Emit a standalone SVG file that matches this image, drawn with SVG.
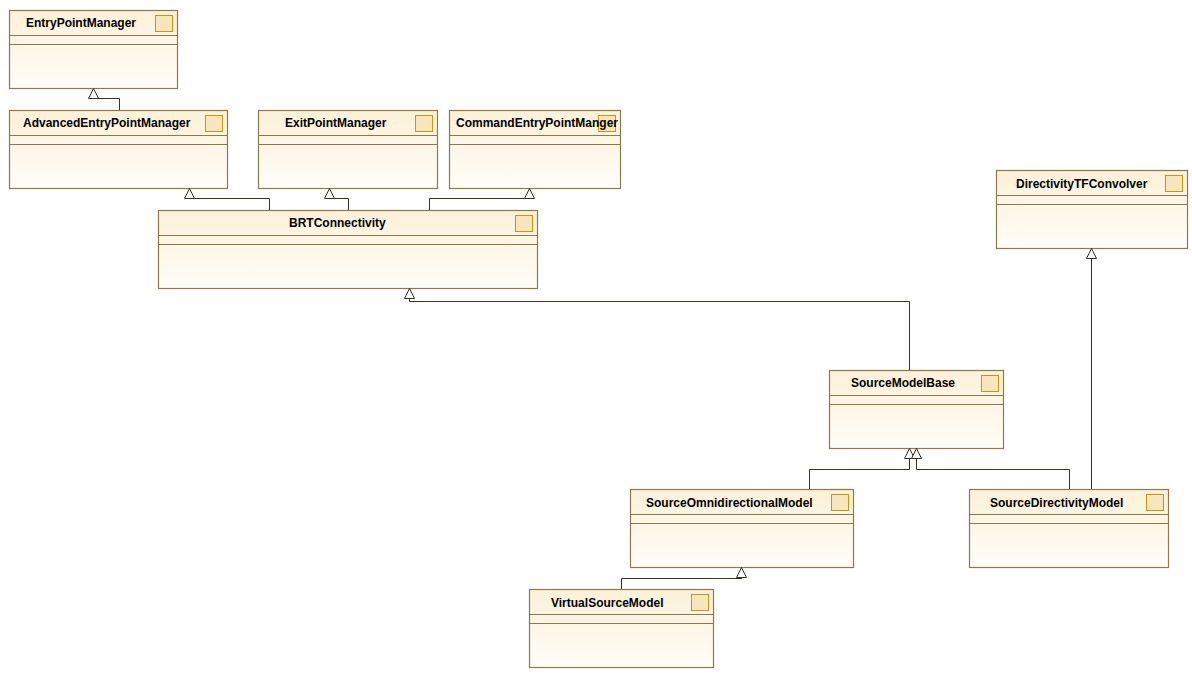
<svg xmlns="http://www.w3.org/2000/svg" width="1192" height="695" viewBox="0 0 1192 695">
<style>
.box{fill:url(#g);stroke:#8c7a4e;stroke-width:1.2}
.sep{stroke:#8c7a4e;stroke-width:1}
.ic{fill:#f6e5bd;stroke:#c8960f;stroke-width:1}
.t{font-family:"Liberation Sans",Arial,sans-serif;font-size:12px;font-weight:bold;fill:#000}
.c{fill:none;stroke:#3a3020;stroke-width:1;marker-end:url(#tri)}
</style>
<defs>
<linearGradient id="g" x1="0" y1="0" x2="0" y2="1"><stop offset="0" stop-color="#fcf1d8"/><stop offset="1" stop-color="#fffdf8"/></linearGradient>
<marker id="tri" markerUnits="userSpaceOnUse" markerWidth="12" markerHeight="12" refX="10" refY="5" orient="auto" viewBox="-1 -1 12 12"><path d="M0,0 L10,5 L0,10 Z" fill="#fff" stroke="#3a3020" stroke-width="1"/></marker>
</defs>
<rect width="1192" height="695" fill="#fff"/>
<g id="EntryPointManager"><rect class="box" x="9.5" y="10.5" width="168" height="78"/><line class="sep" x1="9.5" y1="35.5" x2="177.5" y2="35.5"/><line class="sep" x1="9.5" y1="44.5" x2="177.5" y2="44.5"/><rect class="ic" x="155.5" y="15.5" width="17" height="16"/><text class="t" x="26" y="27">EntryPointManager</text></g>
<g id="AdvancedEntryPointManager"><rect class="box" x="9.5" y="110.5" width="218" height="78"/><line class="sep" x1="9.5" y1="135.5" x2="227.5" y2="135.5"/><line class="sep" x1="9.5" y1="144.5" x2="227.5" y2="144.5"/><rect class="ic" x="205.5" y="115.5" width="17" height="16"/><text class="t" x="23" y="127">AdvancedEntryPointManager</text></g>
<g id="ExitPointManager"><rect class="box" x="258.5" y="110.5" width="179" height="78"/><line class="sep" x1="258.5" y1="135.5" x2="437.5" y2="135.5"/><line class="sep" x1="258.5" y1="144.5" x2="437.5" y2="144.5"/><rect class="ic" x="415.5" y="115.5" width="17" height="16"/><text class="t" x="285" y="127">ExitPointManager</text></g>
<g id="CommandEntryPointManger"><rect class="box" x="449.5" y="110.5" width="171" height="78"/><line class="sep" x1="449.5" y1="135.5" x2="620.5" y2="135.5"/><line class="sep" x1="449.5" y1="144.5" x2="620.5" y2="144.5"/><rect class="ic" x="598.5" y="115.5" width="17" height="16"/><text class="t" x="456" y="127">CommandEntryPointManger</text></g>
<g id="BRTConnectivity"><rect class="box" x="158.5" y="210.5" width="379" height="78"/><line class="sep" x1="158.5" y1="235.5" x2="537.5" y2="235.5"/><line class="sep" x1="158.5" y1="244.5" x2="537.5" y2="244.5"/><rect class="ic" x="515.5" y="215.5" width="17" height="16"/><text class="t" x="289" y="227">BRTConnectivity</text></g>
<g id="DirectivityTFConvolver"><rect class="box" x="996.5" y="170.5" width="191" height="78"/><line class="sep" x1="996.5" y1="195.5" x2="1187.5" y2="195.5"/><line class="sep" x1="996.5" y1="204.5" x2="1187.5" y2="204.5"/><rect class="ic" x="1165.5" y="175.5" width="17" height="16"/><text class="t" x="1016" y="188">DirectivityTFConvolver</text></g>
<g id="SourceModelBase"><rect class="box" x="829.5" y="370.5" width="174" height="78"/><line class="sep" x1="829.5" y1="395.5" x2="1003.5" y2="395.5"/><line class="sep" x1="829.5" y1="404.5" x2="1003.5" y2="404.5"/><rect class="ic" x="981.5" y="375.5" width="17" height="16"/><text class="t" x="851" y="387">SourceModelBase</text></g>
<g id="SourceOmnidirectionalModel"><rect class="box" x="630.5" y="489.5" width="223" height="78"/><line class="sep" x1="630.5" y1="514.5" x2="853.5" y2="514.5"/><line class="sep" x1="630.5" y1="523.5" x2="853.5" y2="523.5"/><rect class="ic" x="831.5" y="494.5" width="17" height="16"/><text class="t" x="646" y="507">SourceOmnidirectionalModel</text></g>
<g id="SourceDirectivityModel"><rect class="box" x="969.5" y="489.5" width="199" height="78"/><line class="sep" x1="969.5" y1="514.5" x2="1168.5" y2="514.5"/><line class="sep" x1="969.5" y1="523.5" x2="1168.5" y2="523.5"/><rect class="ic" x="1146.5" y="494.5" width="17" height="16"/><text class="t" x="990" y="507">SourceDirectivityModel</text></g>
<g id="VirtualSourceModel"><rect class="box" x="529.5" y="589.5" width="184" height="78"/><line class="sep" x1="529.5" y1="614.5" x2="713.5" y2="614.5"/><line class="sep" x1="529.5" y1="623.5" x2="713.5" y2="623.5"/><rect class="ic" x="691.5" y="594.5" width="17" height="16"/><text class="t" x="551" y="607">VirtualSourceModel</text></g>
<g id="connectors">
<polyline class="c" points="119.5,110 119.5,98.5 93.5,98.5 93.5,88.5"/>
<polyline class="c" points="269.5,210 269.5,198.5 189.5,198.5 189.5,188.5"/>
<polyline class="c" points="348.5,210 348.5,198.5 329.5,198.5 329.5,188.5"/>
<polyline class="c" points="429.5,210 429.5,198.5 529.5,198.5 529.5,188.5"/>
<polyline class="c" points="909.5,370 909.5,301.5 409.5,301.5 409.5,288.5"/>
<polyline class="c" points="809.5,489 809.5,469.5 909.5,469.5 909.5,448.5"/>
<polyline class="c" points="1069.5,489 1069.5,469.5 916.5,469.5 916.5,448.5"/>
<polyline class="c" points="1091.5,489 1091.5,248.5"/>
<polyline class="c" points="621.5,589 621.5,578.5 741.5,578.5 741.5,567.5"/>
</g>
</svg>
